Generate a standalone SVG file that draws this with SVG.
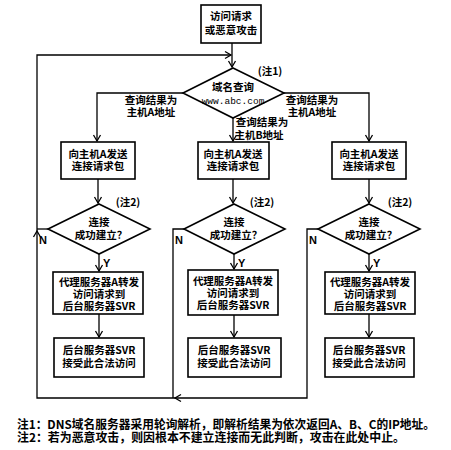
<svg xmlns="http://www.w3.org/2000/svg" width="451" height="450" viewBox="0 0 451 450">
<style>
.box{fill:#fff;stroke:#000;stroke-width:1.6}
.ln{fill:none;stroke:#000;stroke-width:1.3}
.t{font-family:"Noto Sans CJK SC","Liberation Sans",sans-serif;font-size:10.5px;font-weight:bold;text-anchor:middle;fill:#000}
.m{font-family:"Liberation Mono",monospace;font-size:9.5px;font-weight:normal}
.yn{font-family:"Liberation Sans",sans-serif;font-size:11px;font-weight:bold;fill:#000}
.note{font-family:"Noto Sans CJK SC","Liberation Serif",sans-serif;font-size:12px;font-weight:bold;fill:#000}
</style>
<defs>
<marker id="ah" markerWidth="10" markerHeight="10" viewBox="-8 -5 10 10" refX="0" refY="0" orient="auto" markerUnits="userSpaceOnUse">
<path d="M-6,-3.5 L0,0 L-6,3.5" fill="none" stroke="#000" stroke-width="1.3"/>
</marker>
</defs>
<rect width="451" height="450" fill="#fff"/>
<g id="connectors">
<path class="ln" d="M232,43 V67" marker-end="url(#ah)"/>
<path class="ln" d="M183,93 H97 V141" marker-end="url(#ah)"/>
<path class="ln" d="M284,93 H369 V141" marker-end="url(#ah)"/>
<path class="ln" d="M233,118 V141" marker-end="url(#ah)"/>
<path class="ln" d="M98,179 V203" marker-end="url(#ah)"/>
<path class="ln" d="M233,179 V203" marker-end="url(#ah)"/>
<path class="ln" d="M369,179 V203" marker-end="url(#ah)"/>
<path class="ln" d="M99,254 V271" marker-end="url(#ah)"/>
<path class="ln" d="M234,254 V269" marker-end="url(#ah)"/>
<path class="ln" d="M369,254 V271" marker-end="url(#ah)"/>
<path class="ln" d="M99,314 V337" marker-end="url(#ah)"/>
<path class="ln" d="M234,315 V337" marker-end="url(#ah)"/>
<path class="ln" d="M369,314 V337" marker-end="url(#ah)"/>
<path class="ln" d="M318,229 H307 V398 H175" marker-end="url(#ah)"/>
<path class="ln" d="M184,229 H173 V398"/>
<path class="ln" d="M175,398 H37 V231" marker-end="url(#ah)"/>
<path class="ln" d="M48,229 H37"/>
<path class="ln" d="M37,231 V55 H231" marker-end="url(#ah)"/>
</g>
<g id="start">
<rect class="box" x="201" y="5" width="60" height="38"/>
<text class="t" font-size="10"><tspan x="231" y="20">访问请求</tspan><tspan x="231" y="34">或恶意攻击</tspan></text>
</g>
<g id="dns">
<polygon class="box" points="233,68 284,93 233,118 183,93"/>
<text class="t"><tspan x="233" y="91">域名查询</tspan><tspan class="m" x="233" y="104">www.abc.com</tspan></text>
<text class="t" x="270" y="75">(注1)</text>
</g>
<g id="labels">
<text class="t"><tspan x="151" y="104">查询结果为</tspan><tspan x="151" y="116">主机A地址</tspan></text>
<text class="t"><tspan x="312" y="104">查询结果为</tspan><tspan x="312" y="116">主机A地址</tspan></text>
<text class="t"><tspan x="262" y="126">查询结果为</tspan><tspan x="259" y="139">主机B地址</tspan></text>
</g>
<g id="send1">
<rect class="box" x="61" y="142" width="74" height="37"/>
<text class="t"><tspan x="98" y="158">向主机A发送</tspan><tspan x="98" y="170">连接请求包</tspan></text>
</g>
<g id="send2">
<rect class="box" x="198" y="142" width="71" height="37"/>
<text class="t"><tspan x="233" y="158">向主机A发送</tspan><tspan x="233" y="170">连接请求包</tspan></text>
</g>
<g id="send3">
<rect class="box" x="332" y="142" width="74" height="37"/>
<text class="t"><tspan x="369" y="158">向主机A发送</tspan><tspan x="369" y="170">连接请求包</tspan></text>
</g>
<g id="check1">
<polygon class="box" points="99,204 150,229 99,254 48,229"/>
<text class="t"><tspan x="99" y="226">连接</tspan><tspan x="101" y="239">成功建立？</tspan></text>
<text class="t" x="128" y="206">(注2)</text>
<text class="yn" x="39" y="244">N</text>
<text class="yn" x="103" y="267">Y</text>
</g>
<g id="check2">
<polygon class="box" points="234,204 285,229 234,254 184,229"/>
<text class="t"><tspan x="234" y="226">连接</tspan><tspan x="236" y="239">成功建立？</tspan></text>
<text class="t" x="262" y="206">(注2)</text>
<text class="yn" x="175" y="244">N</text>
<text class="yn" x="238" y="267">Y</text>
</g>
<g id="check3">
<polygon class="box" points="369,204 420,229 369,254 318,229"/>
<text class="t"><tspan x="369" y="226">连接</tspan><tspan x="371" y="239">成功建立？</tspan></text>
<text class="t" x="400" y="206">(注2)</text>
<text class="yn" x="309" y="244">N</text>
<text class="yn" x="373" y="267">Y</text>
</g>
<g id="fwd1">
<rect class="box" x="53" y="272" width="90" height="42"/>
<text class="t"><tspan x="99" y="286">代理服务器A转发</tspan><tspan x="99" y="298">访问请求到</tspan><tspan x="99" y="310">后台服务器SVR</tspan></text>
</g>
<g id="fwd2">
<rect class="box" x="188" y="270" width="90" height="45"/>
<text class="t"><tspan x="233" y="285">代理服务器A转发</tspan><tspan x="233" y="297">访问请求到</tspan><tspan x="233" y="309">后台服务器SVR</tspan></text>
</g>
<g id="fwd3">
<rect class="box" x="325" y="272" width="90" height="42"/>
<text class="t"><tspan x="370" y="286">代理服务器A转发</tspan><tspan x="370" y="298">访问请求到</tspan><tspan x="370" y="310">后台服务器SVR</tspan></text>
</g>
<g id="acc1">
<rect class="box" x="54" y="338" width="90" height="39"/>
<text class="t"><tspan x="99" y="354">后台服务器SVR</tspan><tspan x="99" y="367">接受此合法访问</tspan></text>
</g>
<g id="acc2">
<rect class="box" x="188" y="338" width="93" height="39"/>
<text class="t"><tspan x="234" y="354">后台服务器SVR</tspan><tspan x="234" y="367">接受此合法访问</tspan></text>
</g>
<g id="acc3">
<rect class="box" x="325" y="338" width="89" height="39"/>
<text class="t"><tspan x="369" y="354">后台服务器SVR</tspan><tspan x="369" y="367">接受此合法访问</tspan></text>
</g>
<g id="notes">
<text class="note"><tspan x="17" y="429" textLength="418" lengthAdjust="spacingAndGlyphs">注1：DNS域名服务器采用轮询解析，即解析结果为依次返回A、B、C的IP地址。</tspan><tspan x="17" y="442" textLength="388" lengthAdjust="spacingAndGlyphs">注2：若为恶意攻击，则因根本不建立连接而无此判断，攻击在此处中止。</tspan></text>
</g>
</svg>
